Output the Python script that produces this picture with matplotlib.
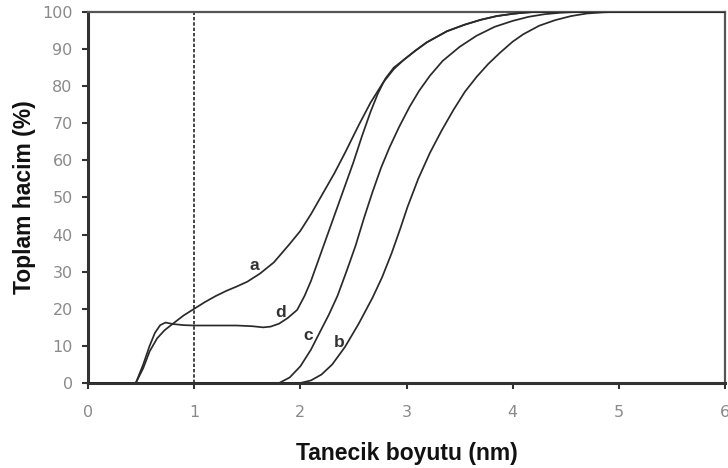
import matplotlib
matplotlib.use("Agg")
import matplotlib.pyplot as plt

# Cumulative volume (%) vs particle size (nm) for samples a-d
a_x = [0.0, 0.45, 0.52, 0.58, 0.65, 0.72, 0.80, 0.90, 1.00, 1.10, 1.20, 1.30, 1.40, 1.50, 1.62,
       1.75, 1.90, 2.00, 2.10, 2.20, 2.32, 2.42, 2.55, 2.66, 2.78, 2.88, 2.97, 3.08, 3.19, 3.38,
       3.55, 3.70, 3.85, 4.00, 4.10, 4.20, 6.0]
a_y = [0.0, 0.0, 4.0, 8.5, 12.0, 14.2, 16.0, 18.2, 20.0, 21.8, 23.4, 24.8, 26.0, 27.3, 29.5,
       32.5, 37.5, 41.0, 45.5, 50.5, 56.5, 62.0, 69.5, 75.5, 81.0, 84.6, 87.0, 89.5, 91.8, 94.8,
       96.6, 97.9, 98.9, 99.5, 99.8, 100.0, 100.0]

b_x = [0.0, 2.00, 2.10, 2.20, 2.30, 2.42, 2.55, 2.68, 2.77, 2.86, 2.94, 3.01, 3.11, 3.22, 3.33,
       3.44, 3.55, 3.66, 3.77, 3.88, 4.00, 4.10, 4.25, 4.40, 4.55, 4.70, 4.85, 4.95, 6.0]
b_y = [0.0, 0.0, 0.7, 2.3, 5.0, 9.7, 16.0, 23.0, 28.5, 35.0, 41.5, 47.5, 55.0, 62.0, 68.0,
       73.5, 78.5, 82.5, 86.0, 89.0, 92.0, 94.0, 96.3, 97.8, 98.9, 99.6, 99.9, 100.0, 100.0]

c_x = [0.0, 1.80, 1.90, 2.00, 2.10, 2.18, 2.27, 2.35, 2.44, 2.52, 2.60, 2.68, 2.76, 2.84, 2.93,
       3.03, 3.12, 3.22, 3.34, 3.50, 3.66, 3.83, 4.00, 4.15, 4.30, 4.45, 4.60, 6.0]
c_y = [0.0, 0.0, 1.5, 4.5, 9.0, 13.5, 18.5, 23.5, 30.5, 37.0, 44.5, 51.5, 58.0, 63.5, 69.0,
       74.5, 78.8, 82.8, 86.8, 90.6, 93.6, 96.0, 97.6, 98.7, 99.4, 99.8, 100.0, 100.0]

d_x = [0.0, 0.45, 0.52, 0.58, 0.63, 0.68, 0.73, 0.80, 0.90, 1.00, 1.20, 1.40, 1.55, 1.65, 1.72,
       1.80, 1.88, 1.97, 2.04, 2.10, 2.20, 2.30, 2.40, 2.50, 2.58, 2.66, 2.73, 2.80, 2.88, 2.97,
       3.08, 3.19, 3.38, 3.55, 3.70, 3.85, 4.00, 4.10, 4.20, 6.0]
d_y = [0.0, 0.0, 5.0, 10.0, 13.5, 15.6, 16.3, 15.9, 15.6, 15.5, 15.5, 15.5, 15.3, 15.0, 15.2,
       16.0, 17.5, 19.7, 23.5, 27.5, 35.5, 43.5, 51.5, 59.5, 66.5, 73.0, 78.0, 82.0, 85.0, 87.0,
       89.5, 91.8, 94.8, 96.6, 97.9, 98.9, 99.5, 99.8, 100.0, 100.0]

curve_labels = ["a", "b", "c", "d"]
label_pos_x = [1.57, 2.37, 2.07, 1.81]
label_pos_y = [31.8, 10.8, 12.9, 18.9]

x_ticks = [0, 1, 2, 3, 4, 5, 6]
y_ticks = [0, 10, 20, 30, 40, 50, 60, 70, 80, 90, 100]
marker_x = 1.0

plt.rcParams["font.family"] = ["DejaVu Sans"]

fig = plt.figure(figsize=(7.28, 4.68), dpi=100)
ax = fig.add_axes([0.1209, 0.1816, 0.8750, 0.7928])

line_color = "#2a2a2a"
for xs, ys in [(a_x, a_y), (b_x, b_y), (c_x, c_y), (d_x, d_y)]:
    ax.plot(xs, ys, color=line_color, lw=1.25, solid_joinstyle="round", zorder=3)

ax.plot([marker_x, marker_x], [0, 100], color="#222222", lw=1.2,
        linestyle=(0, (2.0, 1.2)), zorder=2)

for lab, lx, ly in zip(curve_labels, label_pos_x, label_pos_y):
    ax.text(lx, ly, lab, fontsize=12.5, fontweight="bold", color="#333333",
            family="Liberation Sans", ha="center", va="center", zorder=4)

ax.set_xlim(0, 6)
ax.set_ylim(0, 100)
ax.set_xticks(x_ticks)
ax.set_yticks(y_ticks)
ax.tick_params(axis="both", direction="out", length=4, width=1.5, color="#333333",
               labelcolor="#8a8a8a", labelsize=11.5)
ax.tick_params(axis="x", pad=12)
ax.tick_params(axis="y", pad=7)

for side in ["left", "bottom"]:
    ax.spines[side].set_linewidth(2.2)
    ax.spines[side].set_color("#333333")
for side in ["top", "right"]:
    ax.spines[side].set_linewidth(1.6)
    ax.spines[side].set_color("#555555")

ax.set_xlabel("Tanecik boyutu (nm)", fontsize=16.5, fontweight="bold",
              family="Liberation Sans", color="#111111")
ax.set_ylabel("Toplam hacim (%)", fontsize=16.5, fontweight="bold",
              family="Liberation Sans", color="#111111")
ax.xaxis.set_label_coords(0.5, -0.160)
ax.yaxis.set_label_coords(-0.082, 0.5)

fig.savefig("out.png", dpi=100, facecolor="white")
